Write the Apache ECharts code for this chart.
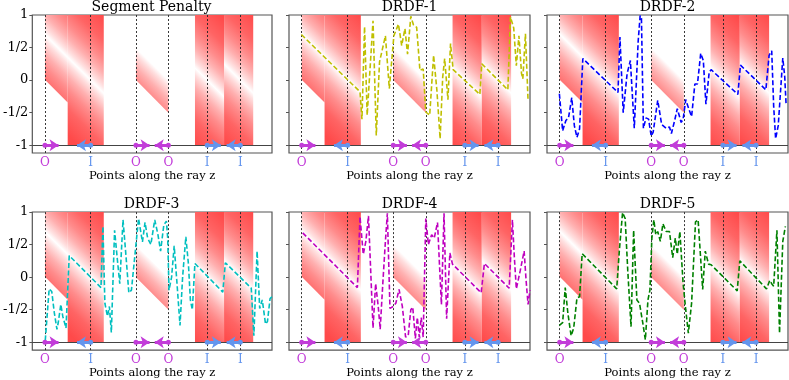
<!DOCTYPE html>
<html lang="en">
<head>
<meta charset="UTF-8">
<title>DRDF penalty</title>
<script src="https://cdn.jsdelivr.net/npm/echarts@6/dist/echarts.min.js"></script>
<style>
  html, body { margin: 0; padding: 0; background: #fff; }
  #chart { width: 789px; height: 380px; }
</style>
</head>
<body>
<div id="chart"></div>
<script>
// panel titles
const titles = ['Segment Penalty', 'DRDF-1', 'DRDF-2', 'DRDF-3', 'DRDF-4', 'DRDF-5'];
// intersections along the ray (x), their kind and the arrow direction
const hitX = [0.195, 0.90, 1.60, 2.10, 2.70, 3.21];
const hitType = ['O', 'I', 'O', 'O', 'I', 'I'];
const hitDir = [1, -1, 1, -1, 1, -1];
const yTicks = [1, 0.5, 0, -0.5, -1];
const yTickLabels = ['1', '1/2', '0', '-1/2', '-1'];
// penalty zones: [x0, x1, zero crossing of the true distance, depth below, height above]
const zones = [
  [0.195, 0.546, 0.90, 0.7, 2],
  [0.546, 1.103, 0.90, 2, 2],
  [1.60, 2.10, 2.10, 0.5, 0],
  [2.511, 2.96, 2.70, 2, 2],
  [2.96, 3.41, 3.21, 2, 2]
];
// predicted distances, one array per panel
const drdf1 = [[0.19,0.70],[1.09,-0.18],[1.12,-0.60],[1.16,0.82],[1.20,-0.54],[1.29,0.91],[1.34,-0.85],[1.39,0.28],
  [1.48,0.68],[1.54,-0.13],[1.57,-0.10],[1.61,0.68],[1.63,0.70],[1.68,0.86],[1.73,0.53],[1.78,0.79],[1.82,0.40],
  [1.87,0.98],[1.91,0.85],[1.96,0.81],[2.01,0.15],[2.06,0.17],[2.09,0.18],[2.10,-0.49],[2.16,-0.54],[2.22,0.38],
  [2.27,-0.15],[2.32,-0.90],[2.36,0.05],[2.39,0.33],[2.44,-0.30],[2.48,0.56],[2.52,0.16],[2.93,-0.22],[2.96,0.25],
  [3.36,-0.15],[3.40,0.97],[3.45,0.80],[3.49,0.22],[3.53,0.68],[3.57,0.10],[3.59,0.02],[3.63,0.71],[3.67,-0.31]];
const drdf2 = [[0.19,-0.21],[0.24,-0.78],[0.29,-0.62],[0.33,-0.58],[0.38,-0.27],[0.42,-0.70],[0.46,-0.88],[0.50,-0.75],
  [0.55,0.33],[1.09,-0.19],[1.12,0.66],[1.17,-0.50],[1.23,0.10],[1.28,0.30],[1.31,0.31],[1.34,-0.74],[1.40,0.60],
  [1.43,0.99],[1.45,0.95],[1.48,-0.74],[1.52,-0.58],[1.56,-0.60],[1.60,-0.86],[1.63,-0.80],[1.70,-0.31],[1.76,-0.68],
  [1.83,-0.74],[1.88,-0.72],[1.91,-0.82],[1.96,-0.62],[2.00,-0.44],[2.06,-0.65],[2.09,-0.60],[2.13,-0.30],[2.18,-0.45],
  [2.22,-0.56],[2.27,-0.06],[2.31,-0.06],[2.36,0.41],[2.40,0.30],[2.44,-0.37],[2.49,0.12],[2.52,0.16],[2.93,-0.22],
  [2.97,0.23],[3.36,-0.15],[3.41,0.38],[3.45,0.45],[3.48,-0.40],[3.51,-0.90],[3.55,-0.70],[3.62,0.34],[3.65,0.05],[3.67,-0.36]];
const drdf3 = [[0.20,-0.97],[0.26,-0.18],[0.30,-0.22],[0.34,-0.55],[0.38,-0.80],[0.40,-0.70],[0.44,-0.42],[0.47,-0.60],
  [0.52,-0.78],[0.57,0.33],[1.06,-0.16],[1.09,0.78],[1.12,-0.40],[1.16,-0.60],[1.19,-0.45],[1.22,-0.85],[1.27,0.72],
  [1.31,0.30],[1.35,-0.10],[1.40,0.88],[1.44,0.40],[1.49,-0.24],[1.53,-0.20],[1.59,0.40],[1.64,0.90],[1.70,0.54],
  [1.74,0.84],[1.78,0.60],[1.83,0.50],[1.89,0.88],[1.94,0.65],[1.98,0.40],[2.03,0.80],[2.07,0.86],[2.09,0.60],
  [2.11,-0.20],[2.15,0.00],[2.19,0.48],[2.23,-0.05],[2.28,-0.74],[2.32,0.00],[2.37,0.62],[2.41,0.20],[2.44,-0.35],
  [2.47,-0.50],[2.51,0.21],[2.94,-0.23],[2.98,0.22],[3.38,-0.17],[3.42,-0.90],[3.47,0.40],[3.51,-0.48],[3.55,-0.35],
  [3.60,-0.72],[3.63,-0.68],[3.67,-0.33],[3.70,-0.30]];
const drdf4 = [[0.21,0.68],[1.05,-0.16],[1.09,0.93],[1.14,0.35],[1.18,0.55],[1.22,0.94],[1.29,-0.78],[1.33,-0.10],
  [1.37,-0.45],[1.40,-0.80],[1.44,-0.10],[1.48,0.55],[1.51,0.98],[1.55,-0.48],[1.60,-0.45],[1.64,-0.40],[1.69,-0.19],
  [1.74,-0.45],[1.79,-0.92],[1.83,-0.90],[1.87,-0.50],[1.90,-0.46],[1.94,-0.94],[1.97,-0.62],[2.00,-0.92],[2.03,-0.62],
  [2.06,-0.92],[2.10,0.90],[2.14,0.50],[2.19,0.65],[2.23,0.60],[2.28,0.84],[2.31,0.20],[2.34,-0.42],[2.38,0.98],
  [2.42,-0.64],[2.47,0.37],[2.51,0.20],[2.95,-0.24],[3.00,0.21],[3.38,-0.17],[3.43,0.88],[3.46,0.30],[3.49,-0.18],
  [3.55,0.10],[3.61,0.40],[3.64,-0.05],[3.67,-0.42],[3.70,-0.20]];
const drdf5 = [[0.19,-0.74],[0.24,-0.70],[0.28,-0.16],[0.32,-0.55],[0.37,-0.90],[0.41,-0.78],[0.46,-0.32],[0.50,-0.30],
  [0.54,0.36],[1.07,-0.18],[1.11,0.40],[1.16,0.99],[1.20,0.90],[1.24,0.10],[1.29,-0.76],[1.33,0.72],[1.38,-0.35],
  [1.42,-0.40],[1.47,-0.70],[1.51,-0.96],[1.55,-0.35],[1.58,-0.20],[1.61,0.60],[1.64,0.88],[1.67,0.65],[1.70,0.70],
  [1.74,0.55],[1.78,0.82],[1.83,0.70],[1.88,0.70],[1.93,0.30],[1.97,0.60],[2.00,0.35],[2.04,0.70],[2.09,-0.10],
  [2.13,-0.50],[2.17,-0.86],[2.22,-0.40],[2.28,0.85],[2.32,0.88],[2.39,-0.19],[2.43,0.40],[2.48,0.20],[2.52,0.19],
  [2.92,-0.21],[2.96,0.25],[3.37,-0.18],[3.42,-0.05],[3.45,-0.10],[3.48,-0.14],[3.53,0.72],[3.57,-0.86],[3.62,0.55],[3.66,0.78]];
const preds = [null, drdf1, drdf2, drdf3, drdf4, drdf5];
const predColors = [null, '#bfbf00', '#0000ff', '#00bfbf', '#bf00bf', '#008000'];

const FONT = 'DejaVu Serif';
const MAG = '#c23cd9';
const BLUE = '#6495ed';
const X_MAX = 3.70, Y_MIN = -1.12, Y_MAX = 1;
const ARROW = 0.21;
// colour ramp from the true line (offset 0.5) outwards, full red at 1.2 units away
const half = [
  [0, '#ffffff'], [0.042, '#ffe0e0'], [0.125, '#ffb0b0'], [0.208, '#ff8c8c'],
  [0.333, '#ff6464'], [0.5, '#ff4a4a']
];
const ramp = half.slice().reverse().map(([d, c]) => ({ offset: 0.5 - d, color: c }))
  .concat(half.slice(1).map(([d, c]) => ({ offset: 0.5 + d, color: c })));

const lefts = [31, 289, 547];
const tops = [15, 212];

function nearestHit(v) {
  let best = 0;
  hitX.forEach((x, k) => { if (Math.abs(x - v) < Math.abs(hitX[best] - v)) best = k; });
  return best;
}

// gradient zone: white along the true distance line, red further away
function renderZone(params, api) {
  const x0 = api.value(0), x1 = api.value(1), z0 = api.value(2);
  const below = api.value(3), above = api.value(4);
  const top = x => Math.min(Y_MAX, z0 - x + above);
  const bot = x => Math.max(-1, z0 - x - below);
  const pts = [[x0, top(x0)], [x1, top(x1)], [x1, bot(x1)], [x0, bot(x0)]].map(p => api.coord(p));
  const a = api.coord([z0 - 0.6, -0.6]);
  const b = api.coord([z0 + 0.6, 0.6]);
  return {
    type: 'polygon',
    shape: { points: pts },
    style: { fill: new echarts.graphic.LinearGradient(a[0], a[1], b[0], b[1], ramp, true) }
  };
}

const grid = [], xAxis = [], yAxis = [], series = [], graphic = [];
for (let i = 0; i < 6; i++) {
  const col = i % 3, row = Math.floor(i / 3);
  grid.push({ left: lefts[col], top: tops[row], width: 241, height: row === 0 ? 138 : 139,
    show: true, borderColor: '#555', borderWidth: 1.2 });
  xAxis.push({
    gridIndex: i, type: 'value', min: 0, max: X_MAX,
    splitLine: { show: false },
    axisLine: { show: false },
    axisTick: { show: false },
    axisLabel: {
      customValues: hitX, margin: 4,
      formatter: v => { const t = hitType[nearestHit(v)]; return '{' + (t === 'O' ? 'o' : 'i') + '|' + t + '}'; },
      rich: {
        o: { color: MAG, fontFamily: FONT, fontSize: 12 },
        i: { color: BLUE, fontFamily: FONT, fontSize: 12 }
      }
    },
    name: 'Points along the ray z', nameLocation: 'middle', nameGap: 16,
    nameTextStyle: { fontFamily: FONT, fontSize: 11.5, color: '#000' }
  });
  yAxis.push({
    gridIndex: i, type: 'value', min: Y_MIN, max: Y_MAX,
    splitLine: { show: false },
    axisLine: { show: false },
    axisTick: { show: true, customValues: yTicks, length: 3, lineStyle: { color: '#555' } },
    axisLabel: {
      show: col === 0, customValues: yTicks, margin: 4,
      formatter: v => yTickLabels[yTicks.indexOf(v)],
      fontFamily: FONT, fontSize: 13, color: '#000'
    }
  });

  series.push({
    type: 'custom', xAxisIndex: i, yAxisIndex: i, silent: true, z: 1,
    renderItem: renderZone, data: zones, clip: true
  });
  series.push({
    type: 'lines', coordinateSystem: 'cartesian2d', xAxisIndex: i, yAxisIndex: i, silent: true, z: 2,
    symbol: 'none',
    lineStyle: { color: '#222', width: 0.9, type: [2, 2], opacity: 1 },
    data: hitX.map(x => ({ coords: [[x, Y_MIN], [x, Y_MAX]] }))
  });
  series.push({
    type: 'lines', coordinateSystem: 'cartesian2d', xAxisIndex: i, yAxisIndex: i, silent: true, z: 2,
    symbol: 'none',
    lineStyle: { color: '#444', width: 1.2, opacity: 1 },
    data: [{ coords: [[0, -1], [X_MAX, -1]] }]
  });
  if (preds[i]) {
    series.push({
      type: 'line', xAxisIndex: i, yAxisIndex: i, silent: true, z: 3,
      data: preds[i], showSymbol: false, symbol: 'none',
      lineStyle: { color: predColors[i], width: 1.6, type: [5, 2.5] }
    });
  }
  ['O', 'I'].forEach(kind => {
    series.push({
      type: 'lines', coordinateSystem: 'cartesian2d', xAxisIndex: i, yAxisIndex: i, silent: true, z: 4,
      symbol: ['circle', 'arrow'], symbolSize: [5, 9],
      lineStyle: { color: kind === 'O' ? MAG : BLUE, width: 3, opacity: 1 },
      data: hitX.map((x, k) => hitType[k] === kind ? { coords: [[x, -1], [x + hitDir[k] * ARROW, -1]] } : null)
        .filter(d => d)
    });
  });

  graphic.push({
    type: 'text', x: lefts[col] + 120.5, y: row === 0 ? 7 : 204,
    style: { text: titles[i], fontFamily: FONT, fontSize: 14, fill: '#000',
      textAlign: 'center', textVerticalAlign: 'middle' }
  });
}

const chart = echarts.init(document.getElementById('chart'));
chart.setOption({ animation: false, grid, xAxis, yAxis, series, graphic });
</script>
</body>
</html>
